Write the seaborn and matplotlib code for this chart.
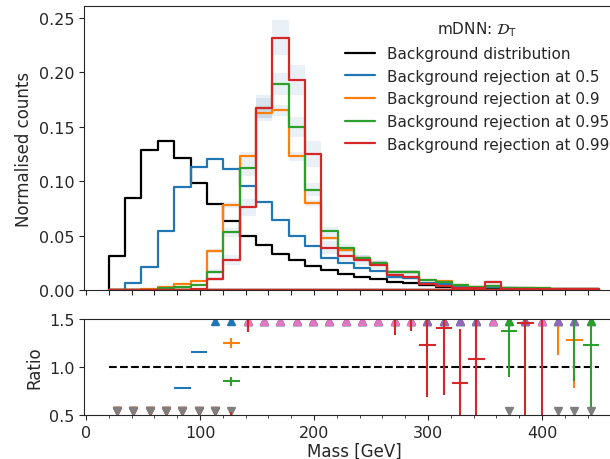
import numpy as np
import matplotlib
matplotlib.use("Agg")
import matplotlib.pyplot as plt
from matplotlib.ticker import MultipleLocator
from matplotlib.lines import Line2D
import seaborn as sns

sns.set_style("ticks")
plt.rcParams['font.family'] = ['DejaVu Sans']

# Mass bins [GeV]
edges = np.linspace(20, 450, 31)
centers = 0.5 * (edges[:-1] + edges[1:])
half_width = 0.5 * (edges[1] - edges[0])

# Normalised counts per bin
background = [0.031, 0.085, 0.129, 0.137, 0.121, 0.098, 0.079, 0.063, 0.050, 0.041,
              0.033, 0.028, 0.022, 0.018, 0.0145, 0.0115, 0.0099, 0.0074, 0.0062, 0.0043,
              0.0032, 0.0024, 0.0020, 0.0018, 0.0014, 0.0012, 0.0010, 0.0008, 0.0006, 0.0005]
rej_050 = [0.0, 0.006, 0.021, 0.054, 0.095, 0.113, 0.120, 0.111, 0.096, 0.081,
           0.064, 0.050, 0.040, 0.029, 0.025, 0.020, 0.0175, 0.0123, 0.0114, 0.0068,
           0.0052, 0.0030, 0.0028, 0.0026, 0.0020, 0.0018, 0.0012, 0.0010, 0.0009, 0.0008]
rej_090 = [0.0, 0.0, 0.0013, 0.003, 0.0052, 0.0083, 0.036, 0.078, 0.123, 0.163,
           0.165, 0.123, 0.080, 0.048, 0.037, 0.029, 0.025, 0.017, 0.017, 0.009,
           0.008, 0.005, 0.003, 0.004, 0.002, 0.002, 0.0018, 0.0013, 0.0012, 0.0010]
rej_095 = [0.0, 0.0, 0.0, 0.0019, 0.003, 0.0043, 0.017, 0.053, 0.112, 0.167,
           0.189, 0.150, 0.092, 0.054, 0.039, 0.029, 0.025, 0.0166, 0.0166, 0.0089,
           0.0077, 0.0043, 0.003, 0.0040, 0.0020, 0.0020, 0.0016, 0.0012, 0.0011, 0.0010]
rej_099 = [0.0, 0.0, 0.0, 0.0, 0.0, 0.0013, 0.0099, 0.0276, 0.076, 0.167,
           0.232, 0.193, 0.125, 0.039, 0.0313, 0.0276, 0.023, 0.0135, 0.0123, 0.0052,
           0.0037, 0.0022, 0.0022, 0.0070, 0.0010, 0.0010, 0.0010, 0.0008, 0.0005, 0.0005]

# Statistical uncertainty bands on the rejected distributions
err_090 = [0, 0, 0, 0, 0, 0, 0.002, 0.003, 0.004, 0.005,
           0.005, 0.004, 0.003, 0.002, 0.002, 0.002, 0.002, 0.001, 0.001, 0.001,
           0, 0, 0, 0, 0, 0, 0, 0, 0, 0]
err_095 = [0, 0, 0, 0, 0, 0, 0.002, 0.004, 0.007, 0.009,
           0.010, 0.009, 0.006, 0.004, 0.003, 0.003, 0.003, 0.002, 0.002, 0.001,
           0.001, 0, 0, 0, 0, 0, 0, 0, 0, 0]
err_099 = [0, 0, 0, 0, 0, 0, 0.002, 0.005, 0.008, 0.012,
           0.016, 0.014, 0.012, 0.006, 0.005, 0.005, 0.004, 0.003, 0.003, 0.002,
           0.002, 0.001, 0.001, 0.002, 0, 0, 0, 0, 0, 0]

# Ratio to background distribution and its uncertainty
ratio_050 = [0.0, 0.07, 0.16, 0.39, 0.78, 1.16, 1.52, 1.76, 1.92, 1.98,
             1.95, 1.80, 1.80, 1.60, 1.70, 1.70, 1.75, 1.65, 1.80, 1.60,
             1.65, 1.60, 1.70, 1.60, 1.70, 1.70, 1.60, 1.70, 1.70, 1.70]
ratio_090 = [0.0, 0.0, 0.01, 0.02, 0.04, 0.08, 0.46, 1.25, 2.40, 4.00,
             5.00, 4.40, 3.60, 2.60, 2.50, 2.40, 2.50, 2.30, 2.70, 2.10,
             2.50, 2.10, 1.80, 2.20, 1.70, 1.80, 1.80, 1.60, 1.28, 1.70]
ratio_095 = [0.0, 0.0, 0.0, 0.015, 0.025, 0.04, 0.21, 0.85, 2.20, 4.10,
             5.70, 5.40, 4.20, 2.90, 2.70, 2.40, 2.50, 2.30, 2.70, 2.10,
             2.40, 1.90, 1.60, 2.20, 1.38, 1.80, 1.80, 1.70, 1.80, 1.23]
ratio_099 = [0.0, 0.0, 0.0, 0.0, 0.0, 0.01, 0.13, 0.44, 1.52, 4.10,
             7.00, 6.90, 5.70, 2.10, 2.10, 2.30, 2.30, 1.60, 1.60, 1.23,
             1.41, 0.83, 1.08, 3.50, 0.30, 1.46, 2.00, 0.30, 0.30, 0.30]
rerr_050 = [0, 0, 0, 0.01, 0.01, 0.01, 0.02, 0.02, 0.03, 0.03,
            0.03, 0.04, 0.04, 0.05, 0.05, 0.06, 0.06, 0.07, 0.08, 0.09,
            0.1, 0.1, 0.1, 0.1, 0.1, 0.1, 0.1, 0.1, 0.1, 0.1]
rerr_090 = [0, 0, 0, 0, 0.01, 0.01, 0.03, 0.05, 0.08, 0.1,
            0.1, 0.1, 0.1, 0.1, 0.1, 0.1, 0.1, 0.1, 0.1, 0.1,
            0.1, 0.1, 0.1, 0.1, 0.1, 0.1, 0.1, 0.48, 0.50, 0.1]
rerr_095 = [0, 0, 0, 0, 0.01, 0.01, 0.03, 0.05, 0.1, 0.1,
            0.1, 0.1, 0.1, 0.1, 0.1, 0.1, 0.1, 0.1, 0.1, 0.1,
            0.1, 0.1, 0.1, 0.1, 0.48, 0.1, 0.1, 0.1, 0.95, 0.80]
rerr_099 = [0, 0, 0, 0, 0, 0.01, 0.05, 0.09, 0.16, 0.1,
            0.1, 0.1, 0.1, 0.1, 0.1, 0.1, 0.1, 0.27, 0.23, 0.54,
            0.70, 0.57, 0.70, 0.1, 0.05, 1.00, 1.60, 0.05, 0.05, 0.05]

labels = ["Background distribution", "Background rejection at 0.5",
          "Background rejection at 0.9", "Background rejection at 0.95",
          "Background rejection at 0.99"]
line_colors = ["black", "tab:blue", "tab:orange", "tab:green", "tab:red"]
colors = line_colors[1:]
up_colors = ["tab:blue", "tab:green", "tab:purple", "tab:pink"]
down_colors = ["tab:orange", "tab:red", "tab:brown", "tab:gray"]

fig = plt.figure(figsize=(6.1, 4.6), dpi=100)
W, H = 610.0, 460.0
x0, xw = 84.3, 539.2
ax = fig.add_axes([x0 / W, 1 - 291 / H, xw / W, 284 / H])
axr = fig.add_axes([x0 / W, 1 - 416 / H, xw / W, 96 / H])

# bands
for vals, err in zip([rej_090, rej_095, rej_099], [err_090, err_095, err_099]):
    v = np.array(vals)
    e = np.array(err)
    ax.fill_between(edges, np.append(v - e, (v - e)[-1]), np.append(v + e, (v + e)[-1]),
                    step="post", color="steelblue", alpha=0.11, linewidth=0)

bins = list(edges)
for vals, c in zip([background, rej_050, rej_090, rej_095, rej_099], line_colors):
    sns.histplot(x=centers, weights=vals, bins=bins, element="step", fill=True,
                 color=c, facecolor="none", edgecolor=c, linewidth=1.6, ax=ax)

ax.set_xlim(-1.5, 471.5)
ax.set_ylim(0, 0.261)
ax.set_ylabel("Normalised counts", fontsize=12)
ax.set_xlabel("")
ax.xaxis.set_major_locator(MultipleLocator(20))
ax.tick_params(axis="x", labelbottom=False)
ax.tick_params(labelsize=11.5)
ax.set_yticks([0.0, 0.05, 0.10, 0.15, 0.20, 0.25])
handles = [Line2D([], [], color=c, linewidth=1.6) for c in line_colors]
ax.legend(handles, labels, title=r"mDNN: $\mathcal{D}_\mathrm{T}$", loc="upper right",
          frameon=False, fontsize=11, title_fontsize=11)

# ratio panel
axr.plot([20, 450], [1, 1], color="black", linestyle="--", linewidth=1.5)
for r, re, c, cu, cd in zip([ratio_050, ratio_090, ratio_095, ratio_099],
                            [rerr_050, rerr_090, rerr_095, rerr_099],
                            colors, up_colors, down_colors):
    r = np.array(r)
    re = np.array(re)
    up = r > 1.5
    down = r < 0.5
    axr.plot(centers[up], np.full(up.sum(), 1.475), linestyle="none", marker="^",
             markersize=5.5, color=cu)
    axr.plot(centers[down], np.full(down.sum(), 0.545), linestyle="none", marker="v",
             markersize=5.5, color=cd)
    axr.errorbar(centers, r, yerr=re, xerr=half_width, fmt="none",
                 ecolor=c, elinewidth=1.5, capsize=0)

axr.set_xlim(-1.5, 471.5)
axr.set_ylim(0.5, 1.5)
axr.set_yticks([0.5, 1.0, 1.5])
axr.xaxis.set_minor_locator(MultipleLocator(20))
axr.tick_params(axis="x", which="minor", length=2, width=0.6)
axr.set_ylabel("Ratio", fontsize=12)
axr.set_xlabel("Mass [GeV]", fontsize=12, labelpad=1.5)
axr.tick_params(labelsize=11.5)

fig.savefig("out.png", dpi=100)
